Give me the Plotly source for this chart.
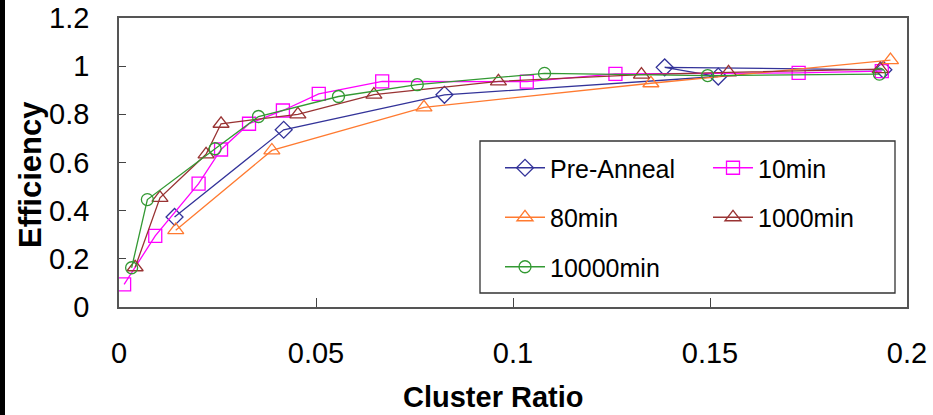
import plotly.graph_objects as go

# ---- data -------------------------------------------------------------
pre_anneal_x = [0.0141, 0.0418, 0.0826, 0.1521, 0.1385, 0.1940]
pre_anneal_y = [0.374, 0.736, 0.881, 0.957, 0.995, 0.985]

min10_x = [0.0013, 0.0092, 0.0202, 0.0259, 0.0330, 0.0416, 0.0507, 0.0668, 0.1035, 0.1260, 0.1725, 0.1936]
min10_y = [0.094, 0.295, 0.512, 0.654, 0.761, 0.816, 0.885, 0.937, 0.936, 0.968, 0.972, 0.979]

min80_x = [0.0144, 0.0388, 0.0774, 0.1350, 0.1958]
min80_y = [0.319, 0.650, 0.829, 0.929, 1.025]

min1000_x = [0.0041, 0.0104, 0.0221, 0.0259, 0.0454, 0.0647, 0.0963, 0.1326, 0.1547, 0.1932]
min1000_y = [0.165, 0.453, 0.634, 0.761, 0.800, 0.882, 0.937, 0.965, 0.974, 0.988]

min10000_x = [0.0032, 0.0072, 0.0244, 0.0354, 0.0557, 0.0757, 0.1080, 0.1494, 0.1930]
min10000_y = [0.163, 0.446, 0.657, 0.791, 0.874, 0.923, 0.970, 0.961, 0.967]

x_ticks = [0, 0.05, 0.1, 0.15, 0.2]
y_ticks = [0, 0.2, 0.4, 0.6, 0.8, 1.0, 1.2]

x_title = "Cluster Ratio"
y_title = "Efficiency"

# ---- figure -----------------------------------------------------------
FONT = "Liberation Sans, Arial, sans-serif"
W, H = 933, 415
ML, MR, MT, MB = 119, 26, 18, 108
PW, PH = W - ML - MR, H - MT - MB


def px_x(p):
    return (p - ML) / PW


def px_y(p):
    return (H - MB - p) / PH


series = [
    ("Pre-Anneal", pre_anneal_x, pre_anneal_y, "#333399", "diamond-open", 13, "legend"),
    ("10min", min10_x, min10_y, "#FF00FF", "square-open", 13, "legend2"),
    ("80min", min80_x, min80_y, "#FF7A30", "triangle-up-open", 14, "legend"),
    ("1000min", min1000_x, min1000_y, "#993333", "triangle-up-open", 14, "legend2"),
    ("10000min", min10000_x, min10000_y, "#339933", "circle-open", 12, "legend"),
]

fig = go.Figure()
for name, xs, ys, color, symbol, size, leg in series:
    fig.add_trace(go.Scatter(
        x=xs, y=ys, name=name, mode="lines+markers",
        line=dict(color=color, width=1.3),
        marker=dict(symbol=symbol, size=size, color=color, line=dict(color=color, width=1.3)),
        legend=leg, legendgroup=name,
    ))

leg_common = dict(
    orientation="v", yanchor="top", xanchor="left",
    bgcolor="rgba(0,0,0,0)", borderwidth=0, itemwidth=40,
    tracegroupgap=14, font=dict(family=FONT, size=25, color="black"),
)

fig.update_layout(
    width=W, height=H,
    margin=dict(l=ML, r=MR, t=MT, b=MB, autoexpand=False),
    paper_bgcolor="white", plot_bgcolor="white",
    font=dict(family=FONT, color="black"),
    showlegend=True,
    legend=dict(x=px_x(500), y=px_y(145), **leg_common),
    legend2=dict(x=px_x(708), y=px_y(145), **leg_common),
    xaxis=dict(
        range=[0, 0.2], tickvals=x_ticks, ticktext=[str(v) for v in x_ticks],
        ticks="inside", ticklen=9, tickwidth=1.3, tickcolor="#444",
        showline=True, linecolor="#555", linewidth=1.6, mirror=True,
        showgrid=False, zeroline=False, automargin=False,
        tickfont=dict(family=FONT, size=29, color="black"),
        ticklabelstandoff=19,
    ),
    yaxis=dict(
        range=[0, 1.2], tickvals=y_ticks, ticktext=["0", "0.2", "0.4", "0.6", "0.8", "1", "1.2"],
        ticks="inside", ticklen=7, tickwidth=1.3, tickcolor="#444",
        showline=True, linecolor="#555", linewidth=1.6, mirror=True,
        showgrid=False, zeroline=False, automargin=False,
        tickfont=dict(family=FONT, size=29, color="black"),
        ticklabelstandoff=22,
    ),
    annotations=[
        dict(text=f"<b>{x_title}</b>", xref="paper", yref="paper",
             x=px_x(493), y=px_y(397), xanchor="center", yanchor="middle",
             showarrow=False, borderpad=0, font=dict(family=FONT, size=29, color="black")),
        dict(text=f"<b>{y_title}</b>", xref="paper", yref="paper",
             x=px_x(30), y=px_y(175), xanchor="center", yanchor="middle",
             textangle=-90, showarrow=False, borderpad=0,
             font=dict(family=FONT, size=31, color="black")),
    ],
    shapes=[
        # legend frame
        dict(type="rect", xref="paper", yref="paper",
             x0=px_x(480), x1=px_x(895), y0=px_y(293), y1=px_y(141),
             line=dict(color="#333", width=1.3), fillcolor="white", layer="below"),
        # dark strip along the left edge of the page
        dict(type="rect", xref="paper", yref="paper",
             x0=px_x(0), x1=px_x(5), y0=px_y(H), y1=px_y(0),
             line=dict(width=0), fillcolor="black", layer="above"),
    ],
)

fig.write_html("out.html")
